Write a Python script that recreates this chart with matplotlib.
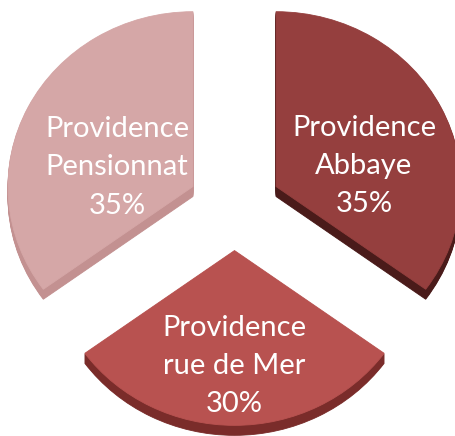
import numpy as np
import matplotlib
matplotlib.use("Agg")
import matplotlib.pyplot as plt

# Data
labels = ["Providence\nAbbaye", "Providence\nrue de Mer", "Providence\nPensionnat"]
shares = [35, 30, 35]

top_colors = ["#953F3E", "#B85250", "#D5A7A7"]
side_colors = ["#4A1B1A", "#7A2C2A", "#C39191"]

# Layout (pixels)
W, H = 456, 436
k = 0.945            # vertical squash of the tilted pie
R = 185              # radius in px
cx, cy_px = 234.5, 206.5
gap = 46.6           # explode distance, px (pie uses data units)
depth = 10

fig = plt.figure(figsize=(W / 100, H / 100), dpi=100)
ax = fig.add_axes([0, 0, 1, 1])

cy = (H - cy_px) / k

# side walls: stack copies shifted down
for step in range(depth, 0, -1):
    ax.pie(shares, colors=side_colors, startangle=90, counterclock=False,
           radius=R, center=(cx, cy - step / k), explode=[gap] * 3,
           wedgeprops=dict(linewidth=0.6), frame=True)
    for w in ax.patches[-3:]:
        w.set_edgecolor(w.get_facecolor())

wedges, _ = ax.pie(shares, colors=top_colors, startangle=90, counterclock=False,
                   radius=R, center=(cx, cy), explode=[gap] * 3,
                   wedgeprops=dict(linewidth=0.6), frame=True)
for w in wedges:
    w.set_edgecolor(w.get_facecolor())

# label placement: (fraction of radius, angle in degrees)
label_place = [(0.49, 14), (0.66, 270), (0.424, 165)]
for w, lab, val, (d, ang) in zip(wedges, labels, shares, label_place):
    x0, y0 = w.center
    a = np.radians(ang)
    tx = x0 + d * R * np.cos(a)
    ty = y0 + d * R * np.sin(a)
    ax.text(tx, ty, f"{lab}\n{val}%", ha="center", va="center", color="white",
            fontsize=21, family=["Lato", "DejaVu Sans"], linespacing=1.58)

ax.set_aspect("auto")
ax.set_xlim(0, W)
ax.set_ylim(0, H / k)
ax.axis("off")

fig.savefig("out.png", dpi=100)
